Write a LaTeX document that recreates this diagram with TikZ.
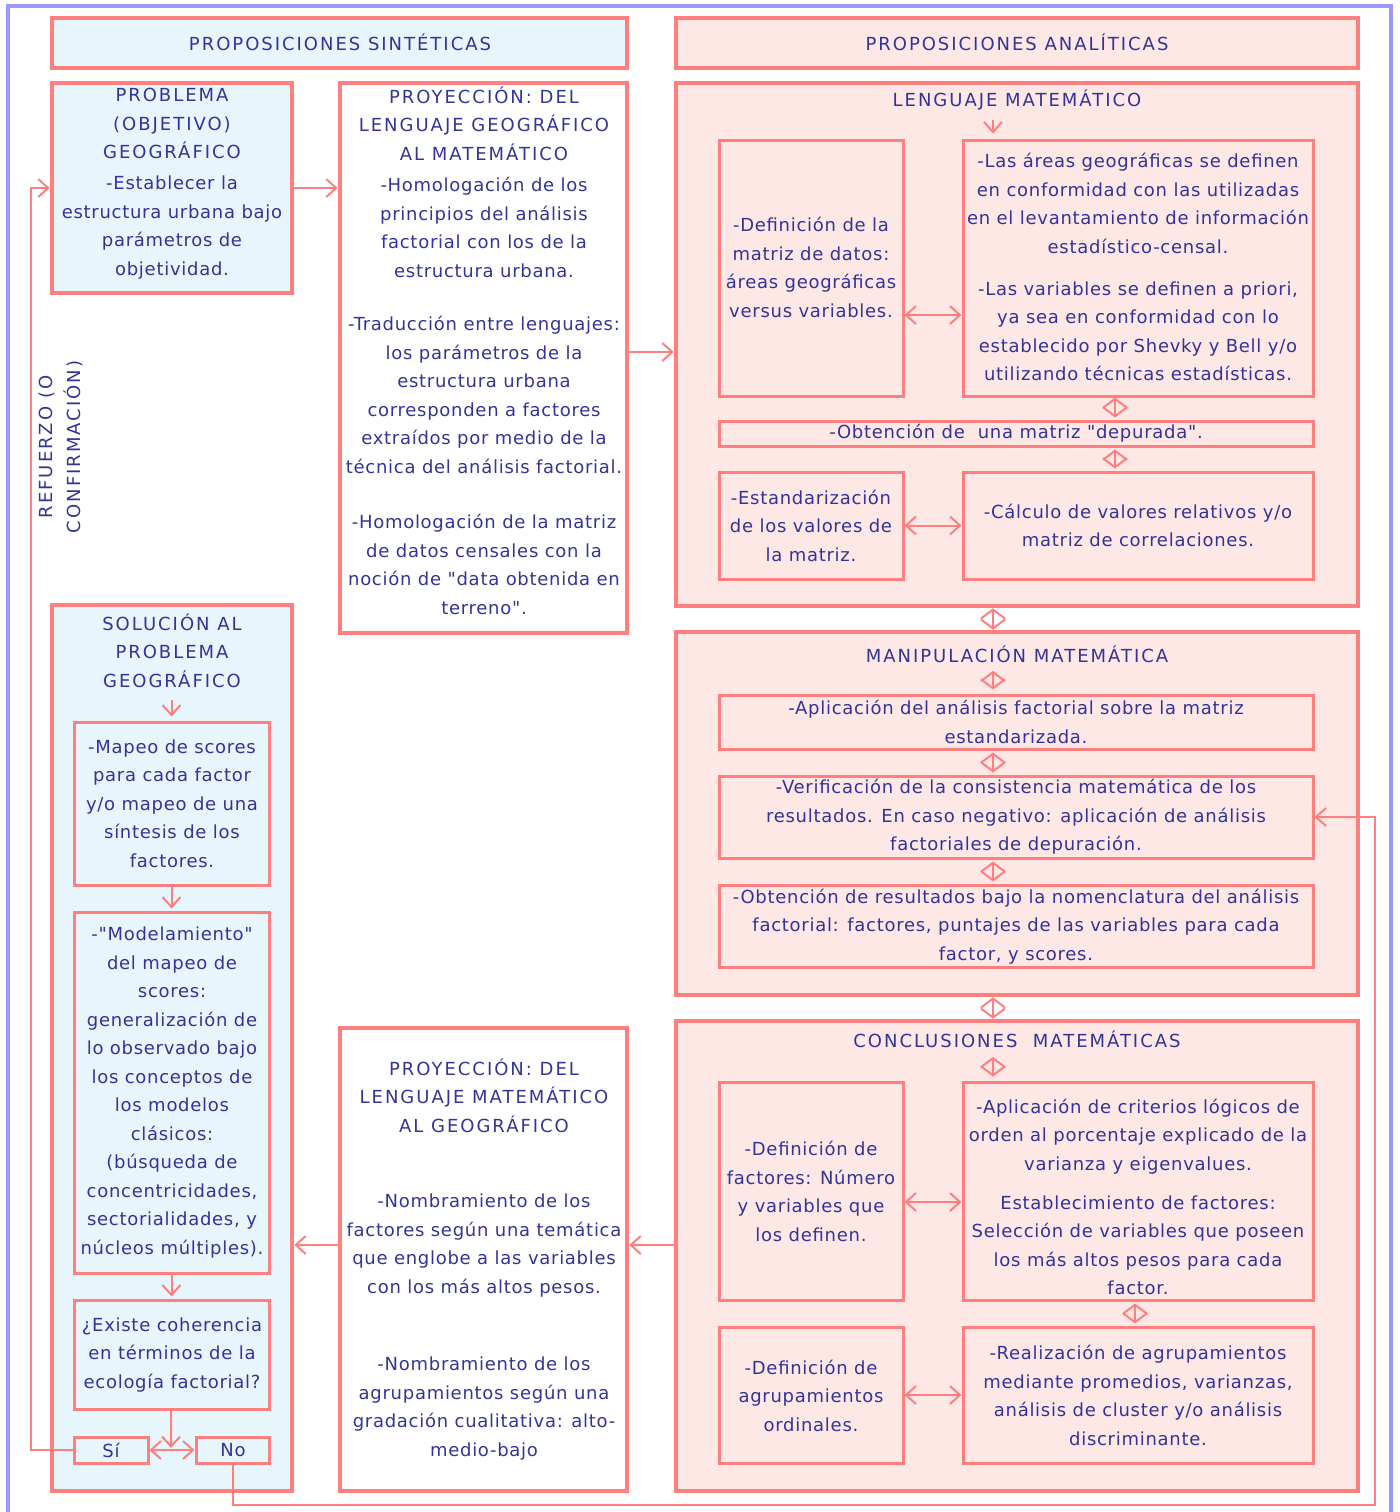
\documentclass[tikz,border=0pt]{standalone}
\usepackage{fontspec}
\setmainfont{DejaVu Sans}[LetterSpace=4, Ligatures=TeXOff]
\usetikzlibrary{arrows.meta,fit}

\definecolor{salmon}{HTML}{FF7F7F}
\definecolor{frameblue}{HTML}{9999FF}
\definecolor{skyfill}{HTML}{E7F6FD}
\definecolor{rosefill}{HTML}{FDE8E6}
\definecolor{inkblue}{HTML}{333399}

\begin{document}
\begin{tikzpicture}[
    x=0.5pt, y=-0.5pt,
    outerbox/.style={rectangle, draw=salmon, line width=2.25pt, inner sep=0pt},
    innerbox/.style={rectangle, draw=salmon, line width=1.5pt, inner sep=0pt},
    sky/.style={fill=skyfill},
    rose/.style={fill=rosefill},
    txt/.style={text=inkblue, align=center, inner sep=0pt, font=\fontsize{9}{14.25}\selectfont},
    caps/.style={txt, font=\fontsize{9}{14.25}\selectfont\addfontfeature{LetterSpace=11}},
    link/.style={salmon, line width=1pt, -{Straight Barb[length=5pt,width=9pt]}},
    twoway/.style={salmon, line width=1pt, {Straight Barb[length=5pt,width=9pt]}-{Straight Barb[length=5pt,width=9pt]}},
    exchange/.style={salmon, line width=1pt, {Straight Barb[length=4.5pt,width=12pt]}-{Straight Barb[length=4.5pt,width=12pt]}}
]
\useasboundingbox (0,0) rectangle (1400,1512);

% Marco
\draw[frameblue, line width=2pt] (8,1512) -- (8,6) -- (1391,6) -- (1391,1512);

% Encabezados
\node[outerbox, sky, fit={(52,18) (627,68)}] (sinteticas) {};
\node[outerbox, rose, fit={(676,18) (1358,68)}] (analiticas) {};
\node[caps] (sinteticasText) at (340,42) {PROPOSICIONES SINTÉTICAS};
\node[caps] (analiticasText) at (1017,42) {PROPOSICIONES ANALÍTICAS};

% Cajas grandes
\node[outerbox, sky, fit={(52,83) (292,293)}] (problema) {};
\node[outerbox, fit={(340,83) (627,633)}] (proyGeo) {};
\node[outerbox, rose, fit={(676,83) (1358,606)}] (lenguaje) {};
\node[outerbox, rose, fit={(676,632) (1358,995)}] (manip) {};
\node[outerbox, rose, fit={(676,1021) (1358,1491)}] (concl) {};
\node[outerbox, fit={(340,1028) (627,1491)}] (proyMat) {};
\node[outerbox, sky, fit={(52,605) (292,1491)}] (solucion) {};

% Cajas interiores
\node[innerbox, rose, fit={(719,140) (903,396)}] (defMatriz) {};
\node[innerbox, rose, fit={(963,140) (1313,396)}] (areas) {};
\node[innerbox, rose, fit={(719,421) (1313,446)}] (depurada) {};
\node[innerbox, rose, fit={(719,472) (903,579)}] (estandar) {};
\node[innerbox, rose, fit={(963,472) (1313,579)}] (calculo) {};
\node[innerbox, rose, fit={(719,695) (1313,749)}] (aplicacion) {};
\node[innerbox, rose, fit={(719,776) (1313,858)}] (verif) {};
\node[innerbox, rose, fit={(719,885) (1313,967)}] (resultados) {};
\node[innerbox, rose, fit={(719,1082) (903,1300)}] (defFactores) {};
\node[innerbox, rose, fit={(963,1082) (1313,1300)}] (criterios) {};
\node[innerbox, rose, fit={(719,1327) (903,1463)}] (defAgrup) {};
\node[innerbox, rose, fit={(963,1327) (1313,1463)}] (realizacion) {};
\node[innerbox, sky, fit={(74,722) (269,885)}] (mapeo) {};
\node[innerbox, sky, fit={(74,912) (269,1273)}] (modelo) {};
\node[innerbox, sky, fit={(74,1300) (269,1409)}] (existe) {};
\node[innerbox, sky, fit={(74,1437) (148,1463)}] (si) {};
\node[innerbox, sky, fit={(196,1437) (269,1463)}] (no) {};

% Textos: columna izquierda
\node[caps] (problemaTitle) at (172,123.5) {PROBLEMA\\(OBJETIVO)\\GEOGRÁFICO};
\node[txt] (problemaText) at (172,227.5) {-Establecer la\\estructura urbana bajo\\parámetros de\\objetividad.};
\node[caps, rotate=90] (refuerzo) at (61,447) {REFUERZO (O\\CONFIRMACIÓN)};
\node[caps] (solTitle) at (172,650.5) {SOLUCIÓN AL\\PROBLEMA\\GEOGRÁFICO};
\node[txt] (mapeoText) at (172,803.5) {-Mapeo de scores\\para cada factor\\y/o mapeo de una\\síntesis de los\\factores.};
\node[txt] (modeloText) at (172,1092.5) {-"Modelamiento"\\del mapeo de\\scores:\\generalización de\\lo observado bajo\\los conceptos de\\los modelos\\clásicos:\\(búsqueda de\\concentricidades,\\sectorialidades, y\\núcleos múltiples).};
\node[txt] (existeText) at (172,1355) {¿Existe coherencia\\en términos de la\\ecología factorial?};
\node[txt] (siText) at (111,1450) {Sí};
\node[txt] (noText) at (233,1450) {No};

% Textos: proyecciones
\node[caps] (proyGeoTitle) at (484,123.5) {PROYECCIÓN: DEL\\LENGUAJE GEOGRÁFICO\\AL MATEMÁTICO};
\node[txt] (proyGeoA) at (484,227.5) {-Homologación de los\\principios del análisis\\factorial con los de la\\estructura urbana.};
\node[txt] (proyGeoB) at (484,395) {-Traducción entre lenguajes:\\los parámetros de la\\estructura urbana\\corresponden a factores\\extraídos por medio de la\\técnica del análisis factorial.};
\node[txt] (proyGeoC) at (484,564.5) {-Homologación de la matriz\\de datos censales con la\\noción de "data obtenida en\\terreno".};
\node[caps] (proyMatTitle) at (484,1095.5) {PROYECCIÓN: DEL\\LENGUAJE MATEMÁTICO\\AL GEOGRÁFICO};
\node[txt] (proyMatA) at (484,1245.5) {-Nombramiento de los\\factores según una temática\\que englobe a las variables\\con los más altos pesos.};
\node[txt] (proyMatB) at (484,1408.5) {-Nombramiento de los\\agrupamientos según una\\gradación cualitativa: alto-\\medio-bajo};

% Textos: lenguaje matemático
\node[caps] (lenTitle) at (1017,100) {LENGUAJE MATEMÁTICO};
\node[txt] (defMatrizText) at (811,267.5) {-Definición de la\\matriz de datos:\\áreas geográficas\\versus variables.};
\node[txt] (areasA) at (1138,203.5) {-Las áreas geográficas se definen\\en conformidad con las utilizadas\\en el levantamiento de información\\estadístico-censal.};
\node[txt] (areasB) at (1138,331.5) {-Las variables se definen a priori,\\ya sea en conformidad con lo\\establecido por Shevky y Bell y/o\\utilizando técnicas estadísticas.};
\node[txt] (depuradaText) at (1016,433) {-Obtención de~ una matriz "depurada".};
\node[txt] (estandarText) at (811,525.5) {-Estandarización\\de los valores de\\la matriz.};
\node[txt] (calculoText) at (1138,525.5) {-Cálculo de valores relativos y/o\\matriz de correlaciones.};

% Textos: manipulación matemática
\node[caps] (manTitle) at (1017,654) {MANIPULACIÓN MATEMÁTICA};
\node[txt] (aplicacionText) at (1016,722) {-Aplicación del análisis factorial sobre la matriz\\estandarizada.};
\node[txt] (verifText) at (1016,817) {-Verificación de la consistencia matemática de los\\resultados. En caso negativo: aplicación de análisis\\factoriales de depuración.};
\node[txt] (resultadosText) at (1016,926.5) {-Obtención de resultados bajo la nomenclatura del análisis\\factorial: factores, puntajes de las variables para cada\\factor, y scores.};

% Textos: conclusiones matemáticas
\node[caps] (conclTitle) at (1017,1039) {CONCLUSIONES~ MATEMÁTICAS};
\node[txt] (defFactoresText) at (811,1191.5) {-Definición de\\factores: Número\\y variables que\\los definen.};
\node[txt] (criteriosA) at (1138,1136.5) {-Aplicación de criterios lógicos de\\orden al porcentaje explicado de la\\varianza y eigenvalues.};
\node[txt] (criteriosB) at (1138,1245.5) {Establecimiento de factores:\\Selección de variables que poseen\\los más altos pesos para cada\\factor.};
\node[txt] (defAgrupText) at (811,1395.5) {-Definición de\\agrupamientos\\ordinales.};
\node[txt] (realizacionText) at (1138,1395.5) {-Realización de agrupamientos\\mediante promedios, varianzas,\\análisis de cluster y/o análisis\\discriminante.};

% Ejes y esquinas
\coordinate (axis) at (993,0);
\coordinate (axisB) at (1115,0);
\coordinate (axisC) at (1135,0);
\coordinate (choice) at (171,1448);
\coordinate (loopL) at (31,1450);
\coordinate (loopR) at (1375,1505);

% Conexiones
\draw[link] (problema.east) -- (problema.east -| proyGeo.west);
\draw[link] ([yshift=3pt]proyGeo.east) -- ([yshift=3pt]proyGeo.east -| lenguaje.west);
\draw[link, shorten <=4.5pt, shorten >=2.5pt] (lenTitle.south -| axis) -- (areas.north -| axis);
\draw[twoway] ([yshift=-23.5pt]defMatriz.east) -- ([yshift=-23.5pt]areas.west);
\draw[exchange, shorten >=1pt] (areas.south -| axisB) -- (depurada.north -| axisB);
\draw[exchange, shorten <=1pt, shorten >=1pt] (depurada.south -| axisB) -- (calculo.north -| axisB);
\draw[twoway] (estandar) -- (calculo);
\draw[exchange] (lenguaje.south -| axis) -- (manip.north -| axis);
\draw[exchange, shorten <=4pt, shorten >=2pt] (manTitle.south -| axis) -- (aplicacion.north -| axis);
\draw[exchange, shorten <=1pt, shorten >=1pt] (aplicacion.south -| axis) -- (verif.north -| axis);
\draw[exchange, shorten <=1pt, shorten >=1pt] (verif.south -| axis) -- (resultados.north -| axis);
\draw[exchange] (manip.south -| axis) -- (concl.north -| axis);
\draw[exchange, shorten <=4.5pt, shorten >=2pt] (conclTitle.south -| axis) -- (criterios.north -| axis);
\draw[twoway] ([yshift=-5.5pt]defFactores.east) -- ([yshift=-5.5pt]criterios.west);
\draw[exchange, shorten <=1pt, shorten >=1pt] (criterios.south -| axisC) -- (realizacion.north -| axisC);
\draw[twoway] (defAgrup) -- (realizacion);
\draw[link] ([yshift=5.5pt]concl.west) -- ([yshift=5.5pt]concl.west -| proyMat.east);
\draw[link] ([yshift=5.5pt]concl.west -| proyMat.west) -- ([yshift=5.5pt]concl.west -| solucion.east);
\draw[link, shorten <=6pt, shorten >=2pt] (solTitle.south -| mapeo.north) -- (mapeo.north);
\draw[link, shorten >=1pt] (mapeo) -- (modelo);
\draw[link, shorten >=1pt] (modelo) -- (existe);
\draw[link] (existe) -- (choice);
\draw[twoway] (si) -- (no);
\draw[link] (si.west) -- (loopL) |- (problema.west);
\draw[link] (no.south) |- (loopR) |- (verif.east);

\end{tikzpicture}
\end{document}
